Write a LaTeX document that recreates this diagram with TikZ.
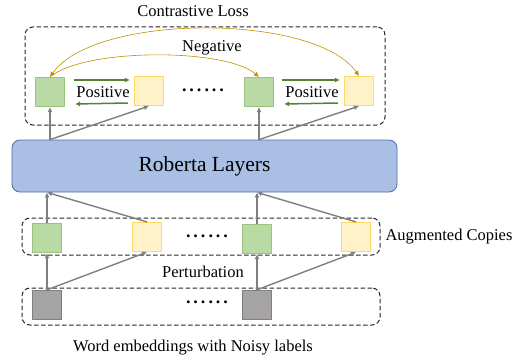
\documentclass[tikz,border=0pt]{standalone}
\usepackage{fontspec}
\setmainfont{Liberation Serif}
\usetikzlibrary{arrows.meta}
\definecolor{gfill}{HTML}{B9D9A5}
\definecolor{gline}{HTML}{97C47E}
\definecolor{yfill}{HTML}{FFF1C8}
\definecolor{yline}{HTML}{FFD966}
\definecolor{kfill}{HTML}{A5A3A3}
\definecolor{kline}{HTML}{7F7F7F}
\definecolor{rfill}{HTML}{A9BFE3}
\definecolor{rline}{HTML}{4F6EAF}
\definecolor{posarrow}{HTML}{548235}
\definecolor{negarrow}{HTML}{BF9000}

\begin{document}
\begin{tikzpicture}[x=1pt,y=-1pt,font=\fontsize{16.5}{18}\selectfont]
\useasboundingbox (0,0) rectangle (525,361);
\tikzset{
  gbox/.style={draw=gline, fill=gfill, line width=1.2pt, minimum size=29pt, inner sep=0pt},
  ybox/.style={draw=yline, fill=yfill, line width=1.2pt, minimum size=29pt, inner sep=0pt},
  kbox/.style={draw=kline, fill=kfill, line width=1.4pt, minimum size=29pt, inner sep=0pt},
  dashframe/.style={draw=black!85, dash pattern=on 4.5pt off 2.5pt, line width=1pt, rounded corners=8pt, inner sep=0pt},
  dotrow/.style={font=\fontsize{18}{18}\selectfont\bfseries},
  uparr/.style={draw=kline, line width=1.4pt, -{Latex[length=5pt,width=5pt]}},
  posarr/.style={draw=posarrow, line width=1.5pt, -{Latex[length=5pt,width=5pt]}},
  negarr/.style={draw=negarrow, line width=0.6pt, -{Latex[length=5pt,width=5pt]}},
}
% frames
\node[dashframe, minimum width=360pt, minimum height=98pt] (lossframe) at (205,76) {};
\node[dashframe, minimum width=358pt, minimum height=37pt] (augframe) at (201,236.5) {};
\node[dashframe, minimum width=358pt, minimum height=37pt] (embframe) at (201,306.5) {};
\node (losstitle) at (193,11) {Contrastive Loss};
\node[anchor=west] (auglabel) at (382,237) {Augmented Copies};
\node (pert) at (203,272) {Perturbation};
\node (embtitle) at (193,348) {Word embeddings with Noisy labels};

% roberta
\node[draw=rline, fill=rfill, line width=0.8pt, rounded corners=8pt, minimum width=385pt, minimum height=52pt,
  font=\fontsize{21.5}{24}\selectfont] (roberta) at (204.5,166) {Roberta Layers};

% top row
\node[gbox] (tg1) at (50,92) {};
\node[ybox] (ty1) at (149,91) {};
\node[gbox] (tg2) at (259,92) {};
\node[ybox] (ty2) at (359,91) {};
\node[dotrow] (tdots) at (203,90) {.\,.\,.\,.\,.\,.};
\node (posa) at (103,92) {Positive};
\node (posb) at (312,92) {Positive};
\node (negl) at (212,48) {Negative};

% augmented copies
\node[gbox] (ag1) at (47,238) {};
\node[ybox] (ay1) at (147,237) {};
\node[gbox] (ag2) at (257,239) {};
\node[ybox] (ay2) at (356,237) {};
\node[dotrow] (adots) at (207,236) {.\,.\,.\,.\,.\,.};

% word embeddings
\node[kbox] (eg1) at (47,305) {};
\node[kbox] (eg2) at (257,305) {};
\node[dotrow] (edots) at (207,302) {.\,.\,.\,.\,.\,.};

% positive pairs
\draw[posarr] ([xshift=9pt,yshift=12pt]tg1.east) -- ([xshift=-4pt,yshift=11pt]ty1.west);
\draw[posarr] ([xshift=-6pt,yshift=-12pt]ty1.west) -- ([xshift=10pt,yshift=-12pt]tg1.east);
\draw[posarr] ([xshift=8pt,yshift=12pt]tg2.east) -- ([xshift=-4pt,yshift=11pt]ty2.west);
\draw[posarr] ([xshift=-6pt,yshift=-12pt]ty2.west) -- ([xshift=10pt,yshift=-12pt]tg2.east);

% negatives
\draw[negarr, {Latex[length=5pt,width=5pt]}-{Latex[length=5pt,width=5pt]}] (tg1.north) .. controls (95,13) and (315,13) .. (ty2.north);
\draw[negarr] (tg1.north) .. controls (85,48) and (225,48) .. (tg2.north);

% roberta to top
\coordinate (rt1) at (roberta.north -| tg1.south);
\coordinate (rt2) at (roberta.north -| tg2.south);
\draw[uparr] (rt1) -- (tg1);
\draw[uparr] (rt1) -- (ty1.south);
\draw[uparr] (rt2) -- (tg2);
\draw[uparr] (rt2) -- (ty2.south);

% augmented to roberta
\coordinate (rb1) at (roberta.south -| ag1.north);
\coordinate (rb2) at (roberta.south -| ag2.north);
\draw[uparr] (ag1) -- (rb1);
\draw[uparr] (ay1.north) -- (rb1);
\draw[uparr] (ag2) -- (rb2);
\draw[uparr] (ay2.north) -- (rb2);

% embeddings to augmented
\draw[uparr] (eg1.north) -- (ag1);
\draw[uparr] (eg1.north) -- (ay1.south);
\draw[uparr] (eg2.north) -- (ag2);
\draw[uparr] (eg2.north) -- (ay2.south);
\end{tikzpicture}
\end{document}
